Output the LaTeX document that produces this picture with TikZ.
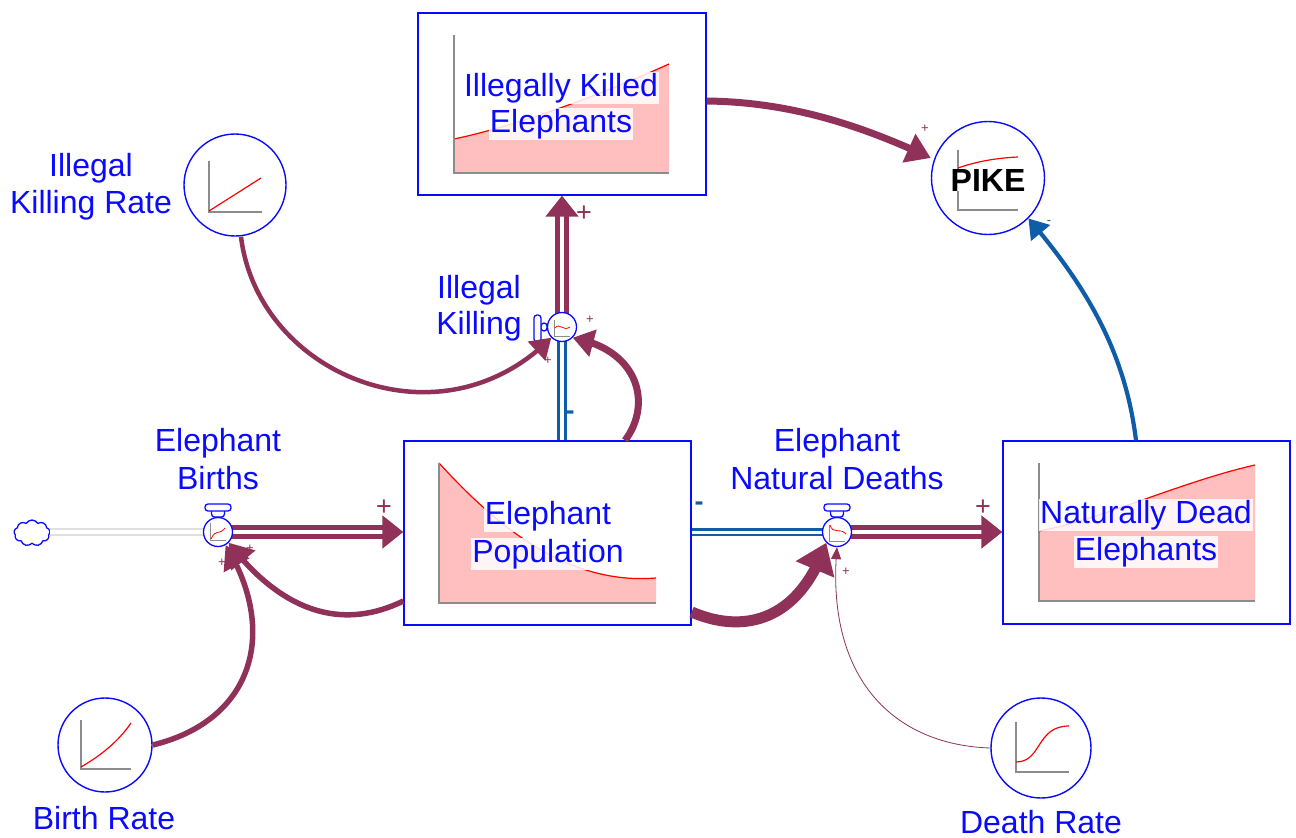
\documentclass[tikz,border=0pt]{standalone}
\usepackage{fontspec}
\setmainfont{Liberation Sans}
\usetikzlibrary{arrows.meta,bending,shapes.symbols}
\definecolor{plum}{HTML}{8F3158}
\definecolor{flowblue}{HTML}{0F5CA8}
\definecolor{lab}{HTML}{0A0AFF}
\definecolor{pinkf}{HTML}{FFBFBF}
\definecolor{axisg}{HTML}{8C8C8C}
\tikzset{
 x=1pt,y=-1pt,
 stock/.style={draw=lab,line width=1.3pt,minimum width=#1,inner sep=0},
 varc/.style={circle,draw=lab,line width=1.4pt,minimum size=#1,inner sep=0},
 valve/.style={circle,draw=lab,line width=1.3pt,fill=white,minimum size=29pt,inner sep=0},
 handle/.style={draw=lab,line width=1.3pt,fill=white,rounded corners=3pt},
 lbl/.style={text=lab,font=\fontsize{32}{33}\selectfont,inner sep=0,anchor=center},
 slbl/.style={lbl,fill=white,fill opacity=.85,text opacity=1,inner sep=1pt},
 axisl/.style={draw=axisg,line width=1.3pt},
 redl/.style={draw=red,line width=1.2pt},
 flowp/.style={draw=plum,line width=5pt,double=white,double distance=3.5pt,-{Triangle[length=21pt,width=32pt]}},
 flowb/.style={draw=flowblue,line width=2.4pt,double=white,double distance=#1},
 plink/.style={draw=plum,line width=#1},
 pbig/.style={text=plum,font=\fontsize{27}{27}\selectfont,inner sep=0},
 psmall/.style={text=plum,font=\fontsize{13}{13}\selectfont,inner sep=0},
 mbig/.style={text=flowblue,font=\bfseries\fontsize{27}{27}\selectfont,inner sep=0},
}
\begin{document}
\begin{tikzpicture}
\useasboundingbox (0,0) rectangle (1296,838);
% stocks
\node[stock=288pt,minimum height=182pt] (killed) at (562,104) {};
\node[stock=287pt,minimum height=184pt] (pop) at (547.5,533) {};
\node[stock=287pt,minimum height=183pt] (dead) at (1146.5,532.5) {};
% stock graphs
\fill[pinkf] (454,173) -- (454,139) .. controls (520,125) and (600,95) .. (669,64) -- (669,173) -- cycle;
\draw[redl] (454,139) .. controls (520,125) and (600,95) .. (669,64);
\draw[axisl] (454,35) -- (454,173) -- (669,173);
\fill[pinkf] (439,603) -- (439,463) .. controls (500,530) and (570,585) .. (656,578) -- (656,603) -- cycle;
\draw[redl] (439,463) .. controls (500,530) and (570,585) .. (656,578);
\draw[axisl] (439,463) -- (439,603) -- (656,603);
\fill[pinkf] (1039,601) -- (1039,531) .. controls (1100,520) and (1180,482) .. (1255,465) -- (1255,601) -- cycle;
\draw[redl] (1039,531) .. controls (1100,520) and (1180,482) .. (1255,465);
\draw[axisl] (1039,463) -- (1039,601) -- (1255,601);
% stock labels
\node[slbl] (k1) at (561,88) {Illegally Killed};
\node[slbl] (k2) at (561,124) {Elephants};
\node[slbl] (p1) at (548,516) {Elephant};
\node[slbl] (p2) at (548,554) {Population};
\node[slbl] (d1) at (1146,515) {Naturally Dead};
\node[slbl] (d2) at (1146,552) {Elephants};
% aux
\node[varc=102pt] (ratek) at (235,185) {};
\node[varc=113pt] (pike) at (988,178) {};
\node[varc=94pt] (rateb) at (105,745) {};
\node[varc=100pt] (rated) at (1041,748) {};
\draw[axisl] (209,161) -- (209,212) -- (262,212);
\draw[redl] (209,211) -- (261,178);
\draw[axisl] (81,720) -- (81,769) -- (131,769);
\draw[redl] (81,767) .. controls (100,756) and (118,742) .. (131,723);
\draw[axisl] (1016,722) -- (1016,772) -- (1069,772);
\draw[redl] (1016,762) .. controls (1042,762) and (1036,726) .. (1069,726);
\draw[axisl] (958,150) -- (958,210) -- (1018,210);
\draw[redl] (958,168) .. controls (975,162) and (995,158) .. (1018,157);
\node[fill=white,inner sep=0,text=black,font=\bfseries\fontsize{32}{32}\selectfont] (piketxt) at (988,180) {PIKE};
% cloud
\node[cloud,cloud puffs=9,cloud puff arc=120,aspect=1.4,draw=lab,line width=1.3pt,fill=white,minimum width=36pt,minimum height=26pt,inner sep=0] (src) at (32,533) {};
% valves (coordinates first, for flows)
\coordinate (vb) at (218,532);
\coordinate (vk) at (562,327);
\coordinate (vd) at (837,532);
% flows
\draw[draw=black!12,line width=1.6pt,double=white,double distance=4pt] (src.east |- vb) -- (vb);
\draw[flowb=4.5pt] (pop.north -| vk) -- (vk);
\draw[flowb=3pt] (pop.east |- vd) -- (vd);
\draw[flowp] (vb) -- (pop.west |- vb);
\draw[flowp] (vk) -- (killed.south -| vk);
\draw[flowp] (vd) -- (dead.west |- vd);
% valves
\draw[handle] (211.5,517) rectangle (224.5,507);
\draw[handle] (205,504) rectangle (231,511);
\node[valve] (valveb) at (vb) {};
\draw[handle] (547,323) rectangle (541,331);
\draw[handle] (534,315) rectangle (541,342);
\node[valve] (valvek) at (vk) {};
\draw[handle] (830.5,517) rectangle (843.5,507);
\draw[handle] (824,504) rectangle (850,511);
\node[valve] (valved) at (vd) {};
% valve graphs
\draw[axisg,line width=.8pt] (210,523) -- (210,540) -- (226,540);
\draw[red,line width=.8pt] (211,539) .. controls (216,528) and (219,536) .. (225,528);
\draw[axisg,line width=.8pt] (554,320) -- (554,336) -- (570,336);
\draw[red,line width=.8pt] (555,328) .. controls (560,322) and (563,332) .. (570,327);
\draw[axisg,line width=.8pt] (829,525) -- (829,541) -- (845,541);
\draw[red,line width=.8pt] (830,525) .. controls (833,535) and (840,527) .. (846,534);
% links
\draw[plink=4.5pt,-{Triangle[length=20pt,width=25pt,flex]}] (ratek.south) ++(6,0) .. controls (258,375) and (440,450) .. (valvek.south west);
\draw[plink=7pt,-{Triangle[length=21pt,width=27pt,flex]}] (pop.north -| 625,0) .. controls (652,405) and (640,350) .. (valvek.south east);
\draw[plink=5.5pt,-{Triangle[length=23pt,width=30pt,flex]}] (pop.west |- 0,601) .. controls (340,632) and (280,610) .. (valveb.south east);
\draw[plink=5.5pt,-{Triangle[length=23pt,width=28pt,flex]}] (rateb.east) .. controls (255,720) and (278,630) .. (valveb.-60);
\draw[plink=11pt,-{Triangle[length=29pt,width=40pt,flex]}] (pop.east |- 0,612) .. controls (745,635) and (800,620) .. (valved.south west);
\draw[plink=.8pt,-{Triangle[length=12pt,width=10pt,flex]}] (rated.west) .. controls (895,745) and (825,680) .. (valved.south);
\draw[plink=7pt,-{Triangle[length=24pt,width=30pt,flex]}] (killed.east |- 0,101) .. controls (790,102) and (860,125) .. (pike.west |- 0,158);
\draw[draw=flowblue,line width=4.2pt,-{Triangle[length=19pt,width=24pt,flex]}] (dead.north -| 1136,0) .. controls (1125,350) and (1085,285) .. (pike.south east);
% labels
\node[lbl] (l1) at (91,168) {Illegal};
\node[lbl] (l2) at (91,205) {Killing Rate};
\node[lbl] (l3) at (218,443) {Elephant};
\node[lbl] (l4) at (218,478) {Births};
\node[lbl] (l5) at (479,290) {Illegal};
\node[lbl] (l6) at (479,326) {Killing};
\node[lbl] (l7) at (837,443) {Elephant};
\node[lbl] (l8) at (837,478) {Natural Deaths};
\node[lbl] (l9) at (104,818) {Birth Rate};
\node[lbl] (l10) at (1041,822) {Death Rate};
% signs
\node[pbig] (s1) at (384,508) {+};
\node[pbig] (s2) at (584,214) {+};
\node[pbig] (s3) at (983,508) {+};
\node[psmall] (s4) at (222,563) {+};
\node[psmall] (s5) at (250,549) {+};
\node[psmall] (s6) at (548,361) {+};
\node[psmall] (s7) at (590,320) {+};
\node[psmall] (s8) at (846,572) {+};
\node[psmall] (s9) at (925,129) {+};
\node[mbig] (s10) at (570,415) {-};
\node[mbig] (s11) at (699,506) {-};
\node[text=flowblue,font=\fontsize{13}{13}\selectfont,inner sep=0] (s12) at (1049,223) {-};
\end{tikzpicture}
\end{document}
